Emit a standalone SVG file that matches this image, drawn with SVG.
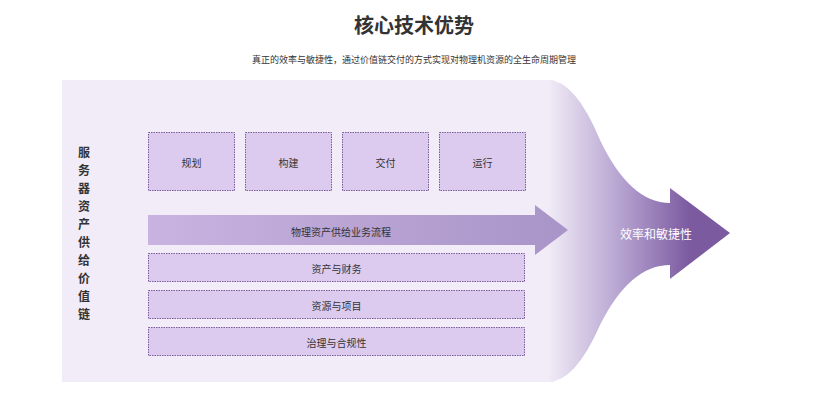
<svg xmlns="http://www.w3.org/2000/svg" width="828" height="410" viewBox="0 0 828 410">
<style>
.t{font-family:"Noto Sans CJK SC","Noto Sans",sans-serif;fill:#333;text-anchor:middle}
.box{fill:#dccbef;stroke:#7a5b9a;stroke-width:1;stroke-dasharray:1.5 1}
.bl{font-family:"Noto Sans CJK SC",sans-serif;font-size:10px;fill:#333;text-anchor:middle;dominant-baseline:central}
</style>
<defs>
<linearGradient id="flow" x1="548" y1="0" x2="690" y2="0" gradientUnits="userSpaceOnUse">
<stop offset="0" stop-color="#f1ecf7"/><stop offset="0.55" stop-color="#b19dcd"/><stop offset="1" stop-color="#7b5aa0"/>
</linearGradient>
<linearGradient id="inner" x1="148" y1="0" x2="568" y2="0" gradientUnits="userSpaceOnUse">
<stop offset="0" stop-color="#c9b3e0"/><stop offset="1" stop-color="#a994c8"/>
</linearGradient>
</defs>
<rect width="828" height="410" fill="#fff"/>
<text class="t" x="414" y="33" font-size="20" font-weight="bold">核心技术优势</text>
<text class="t" x="414" y="63" font-size="9">真正的效率与敏捷性，通过价值链交付的方式实现对物理机资源的全生命周期管理</text>
<rect x="62" y="80" width="492" height="302" fill="#f1ecf7"/>
<g id="flow-arrow">
<path d="M548,80 Q575,80 600,140 Q630,203 670,203 L670,188 L730,233 L670,279 L670,265 Q630,265 600,325 Q575,382 548,382 Z" fill="url(#flow)"/>
<text x="656" y="233" font-family="Noto Sans CJK SC,sans-serif" font-size="12" fill="#fff" text-anchor="middle" dominant-baseline="central">效率和敏捷性</text>
</g>
<g id="label-vertical">
<text class="t" font-size="12" font-weight="bold" x="84">
<tspan x="84" y="157">服</tspan><tspan x="84" y="175">务</tspan><tspan x="84" y="193">器</tspan><tspan x="84" y="211">资</tspan><tspan x="84" y="229">产</tspan><tspan x="84" y="247">供</tspan><tspan x="84" y="265">给</tspan><tspan x="84" y="283">价</tspan><tspan x="84" y="301">值</tspan><tspan x="84" y="319">链</tspan>
</text>
</g>
<g id="n1"><rect class="box" x="148.5" y="132.5" width="86" height="58"/><text class="bl" x="191.5" y="162">规划</text></g>
<g id="n2"><rect class="box" x="245.5" y="132.5" width="86" height="58"/><text class="bl" x="288.5" y="162">构建</text></g>
<g id="n3"><rect class="box" x="342.5" y="132.5" width="86" height="58"/><text class="bl" x="385.5" y="162">交付</text></g>
<g id="n4"><rect class="box" x="439.5" y="132.5" width="86" height="58"/><text class="bl" x="482.5" y="162">运行</text></g>
<g id="process">
<path d="M148,215 L535,215 L535,205 L568,230 L535,255 L535,245 L148,245 Z" fill="url(#inner)"/>
<text class="bl" x="341" y="231">物理资产供给业务流程</text>
</g>
<g id="r1"><rect class="box" x="148.5" y="253.5" width="376" height="28"/><text class="bl" x="336.5" y="268">资产与财务</text></g>
<g id="r2"><rect class="box" x="148.5" y="290.5" width="376" height="28"/><text class="bl" x="336.5" y="305">资源与项目</text></g>
<g id="r3"><rect class="box" x="148.5" y="327.5" width="376" height="28"/><text class="bl" x="336.5" y="342">治理与合规性</text></g>
<g id="connectors"/>
</svg>
